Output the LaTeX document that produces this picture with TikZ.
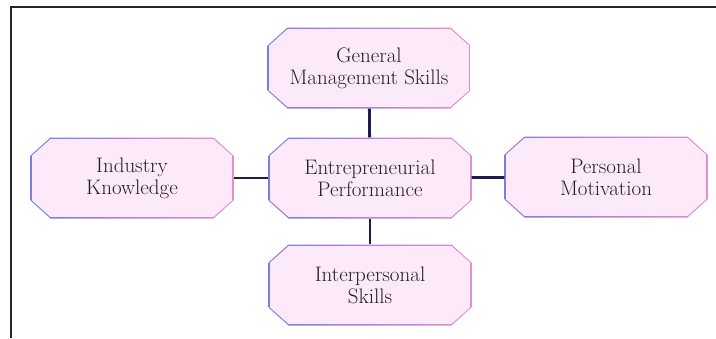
\documentclass[tikz,border=0pt]{standalone}
\usepackage{tikz}
\usetikzlibrary{positioning}
\definecolor{boxfill}{HTML}{FCEAFB}
\definecolor{edgeblue}{HTML}{7C7CE2}
\definecolor{edgepink}{HTML}{E58FCB}
\definecolor{linknavy}{HTML}{1B1B4E}
\definecolor{textgray}{HTML}{222222}
% octagon inside the node's box, #1 = inset
\newcommand{\octpath}[1]{([shift={(20pt,-#1)}]path picture bounding box.north west)
    -- ([shift={(-20pt,-#1)}]path picture bounding box.north east)
    -- ([shift={(-#1,-18pt)}]path picture bounding box.north east)
    -- ([shift={(-#1,18pt)}]path picture bounding box.south east)
    -- ([shift={(-20pt,#1)}]path picture bounding box.south east)
    -- ([shift={(20pt,#1)}]path picture bounding box.south west)
    -- ([shift={(#1,18pt)}]path picture bounding box.south west)
    -- ([shift={(#1,-18pt)}]path picture bounding box.north west) -- cycle}
\tikzset{
    skillbox/.style={minimum width=203pt, minimum height=81pt, inner sep=0pt,
        align=center, text=textgray, font=\fontsize{21}{22}\selectfont,
        path picture={
            \shade[left color=edgeblue, right color=edgepink] \octpath{0pt};
            \fill[boxfill] \octpath{1.6pt};
        }},
    link/.style={draw=linknavy, line width=2.8pt},
}

\begin{document}
\begin{tikzpicture}[x=1pt, y=-1pt]
            \useasboundingbox (0,0) rectangle (716,338);
            \draw[line width=2pt, black!85](716,7)--(11,7)--(11,338);
            \node[skillbox](perf) at (370,178){Entrepreneurial\\Performance};
            \node[skillbox](gms) at (369,68){General\\Management Skills};
            \node[skillbox](ind) at (132,178){Industry\\Knowledge};
            \node[skillbox](mot) at (606,177){Personal\\Motivation};
            \node[skillbox](inter) at (370,285){Interpersonal\\Skills};
            \draw[link](gms)--(perf);
            \draw[link](perf)--(inter);
            \draw[link](ind)--(perf);
            \draw[link](perf)--(mot);
        \end{tikzpicture}
\end{document}
